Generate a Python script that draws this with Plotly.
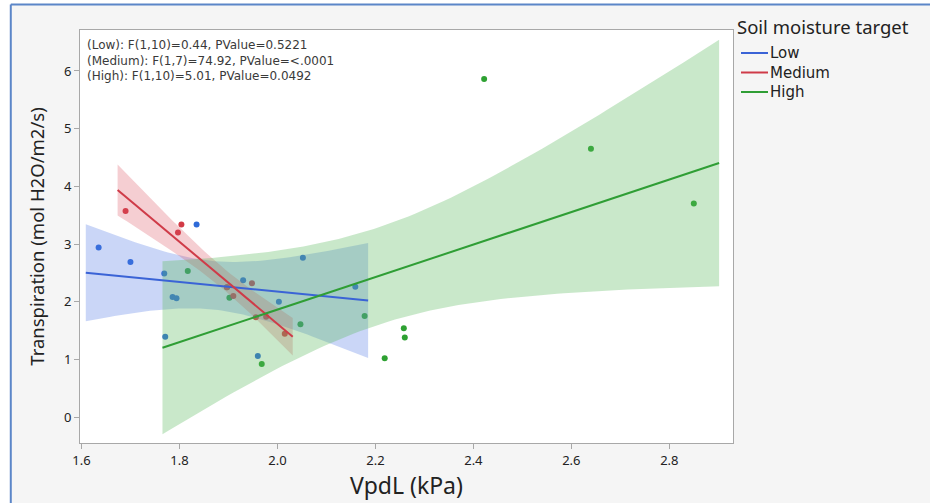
import numpy as np
import plotly.graph_objects as go

# ---- data ----
low_x = [1.635, 1.700, 1.769, 1.771, 1.786, 1.794, 1.835, 1.930, 1.960, 2.003, 2.052, 2.159]
low_y = [2.94, 2.69, 2.49, 1.39, 2.08, 2.06, 3.34, 2.37, 1.06, 2.00, 2.76, 2.26]

med_x = [1.690, 1.804, 1.797, 1.897, 1.910, 1.948, 1.956, 1.977, 2.015]
med_y = [3.57, 3.34, 3.20, 2.25, 2.10, 2.32, 1.73, 1.74, 1.445]

high_x = [1.817, 1.897, 1.902, 1.968, 2.047, 2.178, 2.219, 2.258, 2.260, 2.422, 2.640, 2.850]
high_y = [2.53, 2.25, 2.07, 0.92, 1.61, 1.75, 1.02, 1.54, 1.38, 5.86, 4.65, 3.70]

groups = ["Low", "Medium", "High"]
stats_text = ["(Low): F(1,10)=0.44, PValue=0.5221",
              "(Medium): F(1,7)=74.92, PValue=<.0001",
              "(High): F(1,10)=5.01, PValue=0.0492"]
legend_title = "Soil moisture target"
t975 = {10: 2.228, 7: 2.365}

line_cols = {"Low": "#3a63d6", "Medium": "#cf3b48", "High": "#2f9e35"}
dot_cols = {"Low": "#2f6ad8", "Medium": "#d23a46", "High": "#2ea132"}
band_cols = {"Low": "rgba(80,120,230,0.30)", "Medium": "rgba(220,80,95,0.28)",
             "High": "rgba(90,185,95,0.33)"}

data = {"Low": (low_x, low_y), "Medium": (med_x, med_y), "High": (high_x, high_y)}

fig = go.Figure()

# points first (bands are drawn over them)
for g in ["High", "Low", "Medium"]:
    x, y = data[g]
    fig.add_trace(go.Scatter(x=x, y=y, mode="markers", showlegend=False,
                             marker=dict(color=dot_cols[g], size=6, line=dict(width=0))))

fits = {}
for g in groups:
    x = np.array(data[g][0]); y = np.array(data[g][1])
    n = len(x)
    b, a = np.polyfit(x, y, 1)
    resid = y - (a + b * x)
    s = np.sqrt(np.sum(resid ** 2) / (n - 2))
    xbar = x.mean(); sxx = np.sum((x - xbar) ** 2)
    rng = x.max() - x.min()
    xs = np.linspace(x.min() - 0.05 * rng, x.max() + 0.05 * rng, 80)
    yh = a + b * xs
    se = s * np.sqrt(1.0 / n + (xs - xbar) ** 2 / sxx)
    t = t975[n - 2]
    fits[g] = (xs, yh, yh + t * se, yh - t * se)

for g in groups:
    xs, yh, up, lo = fits[g]
    fig.add_trace(go.Scatter(x=np.concatenate([xs, xs[::-1]]), y=np.concatenate([up, lo[::-1]]),
                             mode="lines", fill="toself", fillcolor=band_cols[g],
                             line=dict(width=0), hoverinfo="skip", showlegend=False))
for g in groups:
    xs, yh, up, lo = fits[g]
    fig.add_trace(go.Scatter(x=xs, y=yh, mode="lines", name=g, showlegend=False,
                             line=dict(color=line_cols[g], width=2)))

# plot area in pixels: x 80..733, y 30..443
PX0, PW, PY1, PH = 80.0, 653.0, 443.0, 413.0
def px(xp):
    return (xp - PX0) / PW
def py(yp):
    return (PY1 - yp) / PH

# stats text block
fig.add_annotation(xref="paper", yref="paper", x=px(86), y=py(37), xanchor="left",
                   yanchor="top", text="<br>".join(stats_text), showarrow=False, align="left",
                   borderpad=0, font=dict(family="DejaVu Sans", size=12, color="#3a3a3a"))

# legend (drawn by hand to match the compact spacing)
shapes = []
fig.add_annotation(xref="paper", yref="paper", x=px(736), y=py(27), xanchor="left",
                   yanchor="middle", text=legend_title, showarrow=False, borderpad=0,
                   font=dict(family="Noto Sans", size=18.5, color="#222"))
for i, g in enumerate(groups):
    yy = py(53 + 19.5 * i)
    shapes.append(dict(type="line", xref="paper", yref="paper", x0=px(741), x1=px(768),
                       y0=yy, y1=yy, line=dict(color=line_cols[g], width=2)))
fig.add_annotation(xref="paper", yref="paper", x=px(769), y=py(72.5), xanchor="left",
                   yanchor="middle", text="<br>".join(groups), showarrow=False, align="left",
                   borderpad=0, font=dict(family="DejaVu Sans", size=15, color="#222"))

axis_common = dict(showgrid=False, zeroline=False, showline=True, linecolor="#a8a8a8",
                   linewidth=1, mirror=True, ticks="outside", ticklen=5, tickcolor="#a8a8a8",
                   tickfont=dict(family="Noto Sans", size=13, color="#222"))

fig.update_xaxes(range=[1.597, 2.93], tickvals=[1.6, 1.8, 2.0, 2.2, 2.4, 2.6, 2.8],
                 ticktext=["1.6", "1.8", "2.0", "2.2", "2.4", "2.6", "2.8"],
                 title=dict(text="VpdL (kPa)", font=dict(family="Noto Sans", size=23, color="#222"),
                            standoff=5), **axis_common)
fig.update_yaxes(range=[-0.45, 6.71], tickvals=[0, 1, 2, 3, 4, 5, 6],
                 title=dict(text="Transpiration (mol H2O/m2/s)",
                            font=dict(family="Noto Sans", size=18.5, color="#222"), standoff=14),
                 **axis_common)

shapes += [
    dict(type="rect", xref="paper", yref="paper", x0=-0.2, x1=1.31, y0=1.063, y1=1.2,
         fillcolor="white", line=dict(width=0), layer="below"),
    dict(type="rect", xref="paper", yref="paper", x0=-0.2, x1=-0.106, y0=-0.2, y1=1.2,
         fillcolor="white", line=dict(width=0), layer="below"),
    dict(type="line", xref="paper", yref="paper", x0=-0.106, x1=1.31, y0=1.062, y1=1.062,
         line=dict(color="#5b86c8", width=2)),
    dict(type="line", xref="paper", yref="paper", x0=-0.106, x1=-0.106, y0=-0.2, y1=1.062,
         line=dict(color="#5b86c8", width=2)),
]

fig.update_layout(
    width=930, height=503,
    margin=dict(l=80, r=197, t=30, b=60),
    paper_bgcolor="#f5f5f5", plot_bgcolor="white",
    font=dict(family="Noto Sans", color="#222"),
    showlegend=False,
    shapes=shapes,
)

fig.write_html("out.html")
